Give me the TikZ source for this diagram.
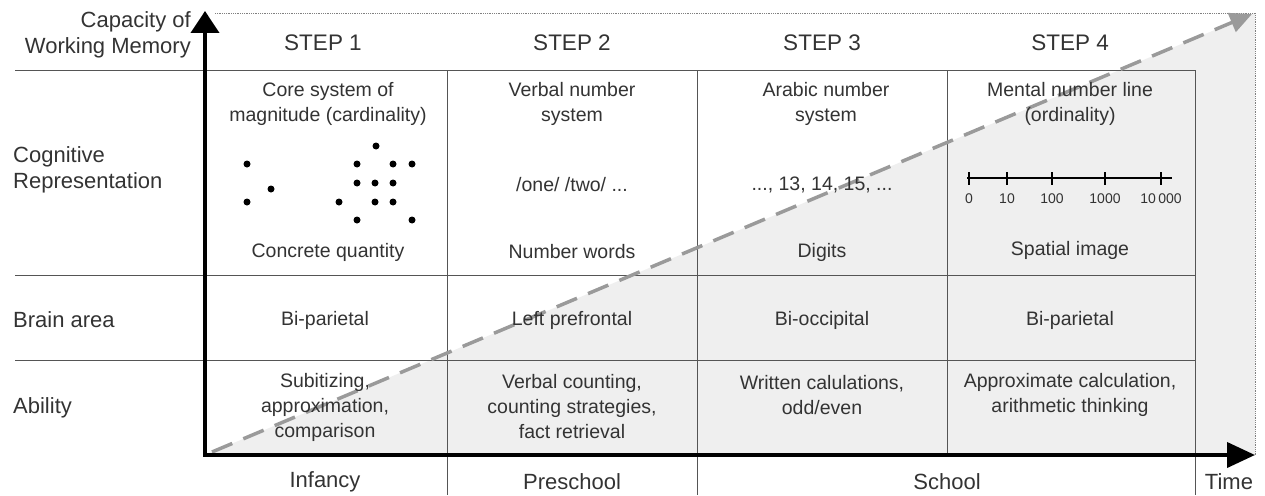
\documentclass[tikz,border=0pt]{standalone}
\usepackage{fontspec}
\setmainfont{Liberation Sans}
\usetikzlibrary{arrows.meta}
\definecolor{txt}{HTML}{333333}
\definecolor{gridc}{HTML}{555555}
\definecolor{shadec}{HTML}{EFEFEF}
\definecolor{dashc}{HTML}{9A9A9A}
\tikzset{
  lbl/.style={font=\fontsize{19.5}{25}\selectfont, text=txt, align=center, inner sep=1pt},
  biglbl/.style={font=\fontsize{22}{26}\selectfont, text=txt, inner sep=1pt},
  steplbl/.style={font=\fontsize{22.5}{26}\selectfont, text=txt, inner sep=1pt},
  small/.style={font=\fontsize{14}{16}\selectfont, text=txt, inner sep=1pt},
  gridline/.style={draw=gridc, line width=0.9pt},
  dot/.style={circle, fill=black, inner sep=0pt, minimum size=7pt},
}
\begin{document}
\begin{tikzpicture}[x=1pt,y=-1pt]
\useasboundingbox (0,0) rectangle (1265,495);
% shaded triangle
\fill[shadec] (205,455) -- (1255,455) -- (1255,13) -- cycle;
% grid
\draw[gridline] (15,70) -- (1195,70);
\draw[gridline] (15,275) -- (1195,275);
\draw[gridline] (15,360) -- (1195,360);
\draw[gridline] (447,70) -- (447,495);
\draw[gridline] (697,70) -- (697,495);
\draw[gridline] (947,70) -- (947,455);
\draw[gridline] (1195,70) -- (1195,495);
% dotted frame
\draw[gray, densely dotted, line width=0.8pt] (215,13) -- (1255,13) -- (1255,455);
% dashed trend arrow
\coordinate (ds) at (212,452);
\coordinate (de) at (1252,14);
\draw[dashc, line width=3.5pt, dash pattern=on 22pt off 12pt, -{Triangle[length=22pt,width=20pt]}] (ds) -- (de);
% axes
\coordinate (O) at (205,455);
\coordinate (ytip) at (205,11);
\coordinate (xtip) at (1255,455);
\draw[line width=4pt, -{Triangle[length=22pt,width=28pt]}] ([yshift=2pt]O) -- (ytip);
\draw[line width=4pt, -{Triangle[length=28pt,width=25pt]}] ([xshift=-2pt]O) -- (xtip);
% left labels
\node[biglbl, align=right, anchor=east] (cap) at (192,35) {Capacity of\\Working Memory};
\node[biglbl, align=left, anchor=west] (cog) at (12,170) {Cognitive\\Representation};
\node[biglbl, anchor=west] (brain) at (12,320) {Brain area};
\node[biglbl, anchor=west] (abil) at (12,408) {Ability};
% steps
\node[steplbl] (s1) at (323,43) {STEP 1};
\node[steplbl] (s2) at (572,43) {STEP 2};
\node[steplbl] (s3) at (822,43) {STEP 3};
\node[steplbl] (s4) at (1070,43) {STEP 4};
% cognitive titles
\node[lbl] (c1) at (328,104) {Core system of\\magnitude (cardinality)};
\node[lbl] (c2) at (572,104) {Verbal number\\system};
\node[lbl] (c3) at (826,104) {Arabic number\\system};
\node[lbl] (c4) at (1070,104) {Mental number line\\(ordinality)};
% dots
\foreach \p [count=\i] in {(247,164),(271,189),(247,202),(376,146),(357,164),(393,164),(412,164),(357,183),(375,183),(393,183),(339,202),(375,202),(393,202),(357,220),(412,220)}
  \node[dot] (d\i) at \p {};
\node[lbl] (n2) at (572,185) {/one/ /two/ ...};
\node[lbl] (n3) at (822,185) {..., 13, 14, 15, ...};
% number line
\coordinate (nl0) at (967,178);
\coordinate (nl1) at (1172,178);
\draw[line width=1.6pt] (nl0) -- (nl1);
\foreach \x/\t [count=\i] in {969/0,1007/10,1052/100,1105/1000,1161/10\,000}{
  \draw[line width=1.6pt] (\x,172) -- (\x,185);
  \node[small] (t\i) at (\x,199) {\t};
}
% representation labels
\node[lbl] (r1) at (328,252) {Concrete quantity};
\node[lbl] (r2) at (572,252) {Number words};
\node[lbl] (r3) at (822,252) {Digits};
\node[lbl] (r4) at (1070,250) {Spatial image};
% brain
\node[lbl] (b1) at (325,320) {Bi-parietal};
\node[lbl] (b2) at (572,320) {Left prefrontal};
\node[lbl] (b3) at (822,320) {Bi-occipital};
\node[lbl] (b4) at (1070,320) {Bi-parietal};
% ability
\node[lbl] (a1) at (325,407) {Subitizing,\\approximation,\\comparison};
\node[lbl] (a2) at (572,407) {Verbal counting,\\counting strategies,\\fact retrieval};
\node[lbl] (a3) at (822,395) {Written calulations,\\odd/even};
\node[lbl] (a4) at (1070,395) {Approximate calculation,\\arithmetic thinking};
% time periods
\node[biglbl] (p1) at (325,482) {Infancy};
\node[biglbl] (p2) at (572,482) {Preschool};
\node[biglbl] (p3) at (947,482) {School};
\node[biglbl] (p4) at (1229,482) {Time};
\end{tikzpicture}
\end{document}
